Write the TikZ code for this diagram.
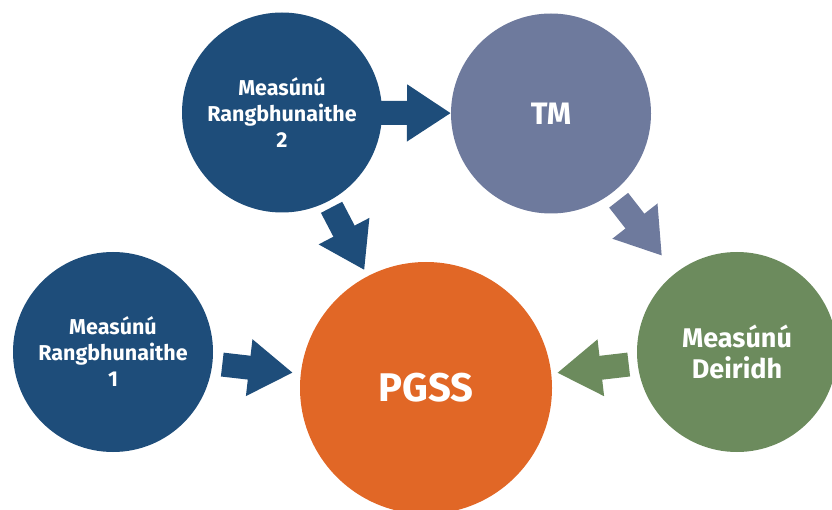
\documentclass[tikz,border=0pt]{standalone}
\usepackage{fontspec}
\setmainfont{Fira Sans}
\usetikzlibrary{arrows.meta}
\definecolor{rangblue}{HTML}{1E4D7A}
\definecolor{tmslate}{HTML}{6E7A9D}
\definecolor{pgssorange}{HTML}{E16726}
\definecolor{deirgreen}{HTML}{6C8B5D}
\begin{document}
\begin{tikzpicture}[x=1pt,y=1pt,
    bubble/.style={circle,minimum size=200pt,inner sep=0pt,outer sep=0pt,text=white,align=center,font=\bfseries\fontsize{21.5}{26}\selectfont},
    flow/.style={line width=24pt,-{Triangle[length=44pt,width=54pt]}}]
\useasboundingbox (0,0) rectangle (832,509);
    \node[bubble,fill=rangblue](m2) at (282,396.5){Measúnú\\Rangbhunaithe\\2};
    \node[bubble,fill=tmslate,font=\bfseries\fontsize{31}{36}\selectfont](tm) at (551,395.5){TM};
    \node[bubble,fill=rangblue](m1) at (113,157){Measúnú\\Rangbhunaithe\\1};
    \node[bubble,fill=pgssorange,minimum size=252pt,font=\bfseries\fontsize{40}{46}\selectfont](pgss) at (426,121){PGSS};
    \node[bubble,fill=deirgreen,font=\bfseries\fontsize{27}{31}\selectfont](deir) at (737,157){Measúnú\\Deiridh};
    \draw[flow,rangblue,shorten <=-12pt](m2)--(tm);
    \draw[flow,rangblue,shorten <=7pt,shorten >=7pt](m2)--(pgss);
    \draw[flow,tmslate,shorten <=10pt,shorten >=22pt](tm)--(deir);
    \draw[flow,deirgreen,shorten <=9pt,shorten >=6pt](deir)--(pgss);
    \draw[flow,rangblue,shorten <=10pt,shorten >=8pt](m1)--(pgss);
\end{tikzpicture}
\end{document}
